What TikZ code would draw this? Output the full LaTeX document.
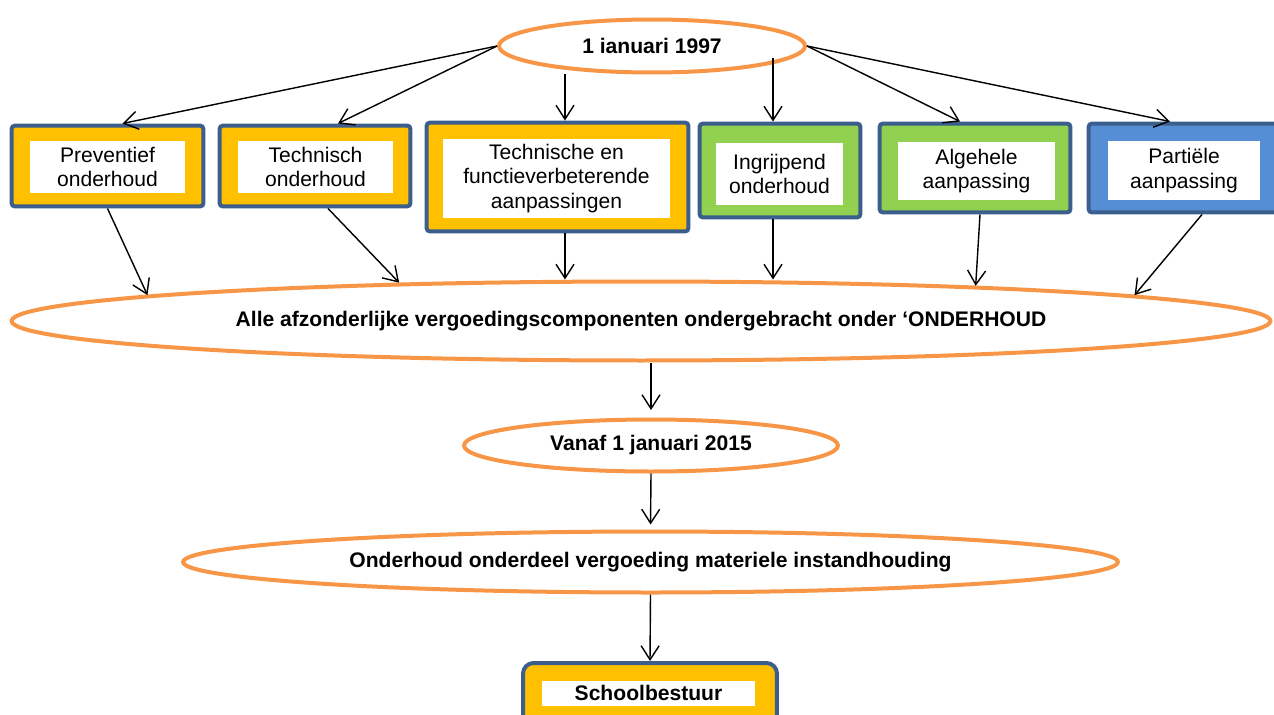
\documentclass[tikz,border=0pt]{standalone}
\usepackage{fontspec}
\setmainfont{Liberation Sans}
\usetikzlibrary{arrows.meta,shapes.geometric}
\definecolor{ovalorange}{HTML}{F79646}
\definecolor{boxblue}{HTML}{3B5E8C}
\definecolor{fillyellow}{HTML}{FFC000}
\definecolor{fillgreen}{HTML}{92D050}
\definecolor{fillblue}{HTML}{558ED5}
\begin{document}
\begin{tikzpicture}[x=0.02cm,y=-0.02cm,
        font=\fontsize{12}{13.8}\selectfont,
        oval/.style={ellipse,draw=ovalorange,line width=0.08cm,inner sep=0pt,font=\fontsize{12}{13.8}\selectfont\bfseries},
        outer/.style={draw=boxblue,line width=0.08cm,rounded corners=2pt,inner sep=0pt},
        inner/.style={fill=white,inner sep=0pt,align=center},
        arr/.style={-{Straight Barb[length=0.28cm,width=0.36cm]},line width=0.8pt}]
        \useasboundingbox (0,0) rectangle (1274,714);
        \node[oval,minimum width=6.12cm,minimum height=1.06cm] (top) at (652,46) {1 ianuari 1997};
        \node[outer,fill=fillyellow,minimum width=3.84cm,minimum height=1.62cm] (b1) at (107.5,166) {};
        \node[inner,minimum width=3.1cm,minimum height=1.04cm] (t1) at (107.5,167) {Preventief\\onderhoud};
        \node[outer,fill=fillyellow,minimum width=3.82cm,minimum height=1.62cm] (b2) at (315,166) {};
        \node[inner,minimum width=3.1cm,minimum height=1.04cm] (t2) at (315.5,167) {Technisch\\onderhoud};
        \node[outer,fill=fillyellow,minimum width=5.24cm,minimum height=2.18cm] (b3) at (557.5,177) {};
        \node[inner,minimum width=4.54cm,minimum height=1.58cm] (t3) at (556.5,178.5) {Technische en\\functieverbeterende\\aanpassingen};
        \node[outer,fill=fillgreen,minimum width=3.22cm,minimum height=1.88cm] (b4) at (780,170.5) {};
        \node[inner,minimum width=2.54cm,minimum height=1.24cm] (t4) at (779.5,174) {Ingrijpend\\onderhoud};
        \node[outer,fill=fillgreen,minimum width=3.82cm,minimum height=1.78cm] (b5) at (975,168) {};
        \node[inner,minimum width=3.14cm,minimum height=1.16cm] (t5) at (976.5,171) {Algehele\\aanpassing};
        \node[outer,fill=fillblue,minimum width=3.82cm,minimum height=1.78cm] (b6) at (1184,168) {};
        \node[inner,minimum width=3.04cm,minimum height=1.18cm] (t6) at (1184,170.5) {Partiële\\aanpassing};
        \node[oval,minimum width=25.18cm,minimum height=1.58cm] (big) at (641,321) {Alle afzonderlijke vergoedingscomponenten ondergebracht onder ‘ONDERHOUD};
        \node[oval,minimum width=7.48cm,minimum height=1.04cm] (e2) at (651,445.5) {Vanaf 1 januari 2015};
        \node[oval,minimum width=18.7cm,minimum height=1.22cm] (e3) at (650.5,562) {Onderhoud onderdeel vergoeding materiele instandhouding};
        \node[outer,fill=fillyellow,rounded corners=6pt,minimum width=5.08cm,minimum height=1.36cm] (b7) at (650,697) {};
        \node[inner,minimum width=4.26cm,minimum height=0.5cm,font=\fontsize{12}{13.8}\selectfont\bfseries] (t7) at (648.5,693) {Schoolbestuur};
        \draw[arr] (top.west) -- ([xshift=0.3cm]b1.north);
        \draw[arr] (top.west) -- ([xshift=0.46cm]b2.north);
        \draw[arr] ([xshift=0.15cm]b3.north |- top.south) -- ([xshift=0.15cm]b3.north);
        \draw[arr] ([xshift=-0.14cm]b4.north |- top.-5) -- ([xshift=-0.14cm]b4.north);
        \draw[arr] (top.east) -- ([xshift=-0.3cm]b5.north);
        \draw[arr] (top.east) -- ([xshift=-0.28cm]b6.north);
        \draw[arr] (b1.south) -- (big.177);
        \draw[arr] ([xshift=0.26cm]b2.south) -- (big.171);
        \draw[arr] ([xshift=0.15cm]b3.south) -- ([xshift=0.15cm]b3.south |- big.north);
        \draw[arr] ([xshift=-0.14cm]b4.south) -- ([xshift=-0.14cm]b4.south |- big.north);
        \draw[arr] ([xshift=0.1cm]b5.south) -- (big.6.5);
        \draw[arr] ([xshift=0.36cm]b6.south) -- (big.3);
        \draw[arr,shorten >=0.15cm] (big.south -| e2.north) -- (e2.north);
        \draw[arr,shorten >=0.1cm] (e2.south) -- (e3.north);
        \draw[arr] (e3.south) -- (b7.north);
\end{tikzpicture}
\end{document}
